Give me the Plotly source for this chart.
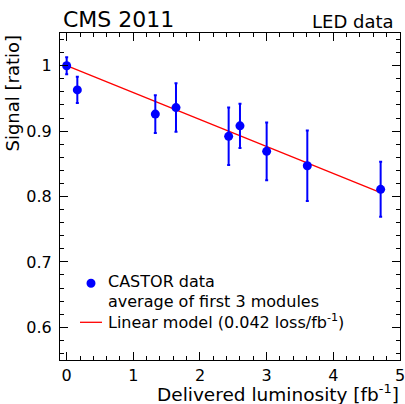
import plotly.graph_objects as go

lumi = [0.0, 0.16, 1.33, 1.64, 2.43, 2.60, 3.00, 3.61, 4.71]
signal = [1.000, 0.963, 0.926, 0.936, 0.892, 0.908, 0.869, 0.847, 0.811]
signal_err = [0.013, 0.020, 0.029, 0.037, 0.044, 0.034, 0.044, 0.054, 0.042]

fit_x = [0.0, 4.71]
fit_y = [1.0, 0.806]

x_ticks = [0, 1, 2, 3, 4, 5]
x_tick_labels = ["0", "1", "2", "3", "4", "5"]
y_ticks = [0.6, 0.7, 0.8, 0.9, 1.0]
y_tick_labels = ["0.6", "0.7", "0.8", "0.9", "1"]

legend_texts = ["CASTOR data", "average of first 3 modules",
                "Linear model (0.042 loss/fb<sup>-1</sup>)"]

FONT = "DejaVu Sans, Liberation Sans, Arial, sans-serif"
BLUE = "#0000ff"
RED = "#ff0000"

# plot area in pixels
L, R, T, B = 60, 400, 33, 360
W, H = R - L, B - T


def px(x):
    return (x - L) / W


def py(y):
    return (B - y) / H


fig = go.Figure()
fig.add_trace(go.Scatter(
    x=fit_x, y=fit_y, mode="lines",
    line=dict(color=RED, width=1.3),
    name="Linear model", showlegend=False,
))
fig.add_trace(go.Scatter(
    x=lumi, y=signal, mode="markers",
    marker=dict(color=BLUE, size=9, line=dict(width=0)),
    error_y=dict(type="data", array=signal_err, color=BLUE, thickness=2, width=1.5),
    name="CASTOR data", showlegend=False,
))

axis_common = dict(
    showline=True, linecolor="black", linewidth=1, mirror="allticks",
    ticks="inside", ticklen=8, tickwidth=1, tickcolor="black",
    showgrid=False, zeroline=False,
    tickfont=dict(family=FONT, size=16, color="black"),
)

fig.update_xaxes(
    range=[-0.1, 5.0005], tickvals=x_ticks, ticktext=x_tick_labels,
    minor=dict(dtick=0.2, ticks="inside", ticklen=4, tickcolor="black", tickwidth=1, showgrid=False),
    ticklabelstandoff=1, ticklabeloverflow="allow",
    **axis_common,
)
fig.update_yaxes(
    range=[0.55, 1.05], tickvals=y_ticks, ticktext=y_tick_labels,
    minor=dict(dtick=0.02, ticks="inside", ticklen=4, tickcolor="black", tickwidth=1, showgrid=False),
    ticklabelstandoff=4,
    **axis_common,
)

annotations = [
    dict(text="CMS 2011", xref="paper", yref="paper", x=px(61), y=1.0,
         xanchor="left", yanchor="bottom", yshift=-1, showarrow=False,
         font=dict(family=FONT, size=22, color="black")),
    dict(text="LED data", xref="paper", yref="paper", x=px(396), y=1.0,
         xanchor="right", yanchor="bottom", yshift=-1, showarrow=False,
         font=dict(family=FONT, size=18, color="black")),
    dict(text="Delivered luminosity [fb<sup>-1</sup>]", xref="paper", yref="paper",
         x=px(401), y=0, xanchor="right", yanchor="top", yshift=-19, showarrow=False,
         font=dict(family=FONT, size=18.5, color="black")),
    dict(text="Signal [ratio]", xref="paper", yref="paper",
         x=px(12), y=1.0, xanchor="center", yanchor="top", textangle=-90,
         showarrow=False, font=dict(family=FONT, size=18, color="black")),
]
for txt, yc in zip(legend_texts, [281, 301, 321]):
    annotations.append(dict(
        text=txt, xref="paper", yref="paper", x=px(106), y=py(yc),
        xanchor="left", yanchor="middle", showarrow=False,
        font=dict(family=FONT, size=16, color="black")))

shapes = [
    dict(type="circle", xref="paper", yref="paper",
         x0=px(91 - 4.5), x1=px(91 + 4.5), y0=py(283.3 + 4.5), y1=py(283.3 - 4.5),
         fillcolor=BLUE, line=dict(width=0)),
    dict(type="line", xref="paper", yref="paper",
         x0=px(80), x1=px(102), y0=py(322.3), y1=py(322.3),
         line=dict(color=RED, width=1.3)),
]

fig.update_layout(
    width=405, height=404,
    margin=dict(l=L, r=405 - R, t=T, b=404 - B, autoexpand=False),
    paper_bgcolor="white", plot_bgcolor="white",
    font=dict(family=FONT, color="black"),
    showlegend=False,
    annotations=annotations,
    shapes=shapes,
)

fig.write_html("out.html")
